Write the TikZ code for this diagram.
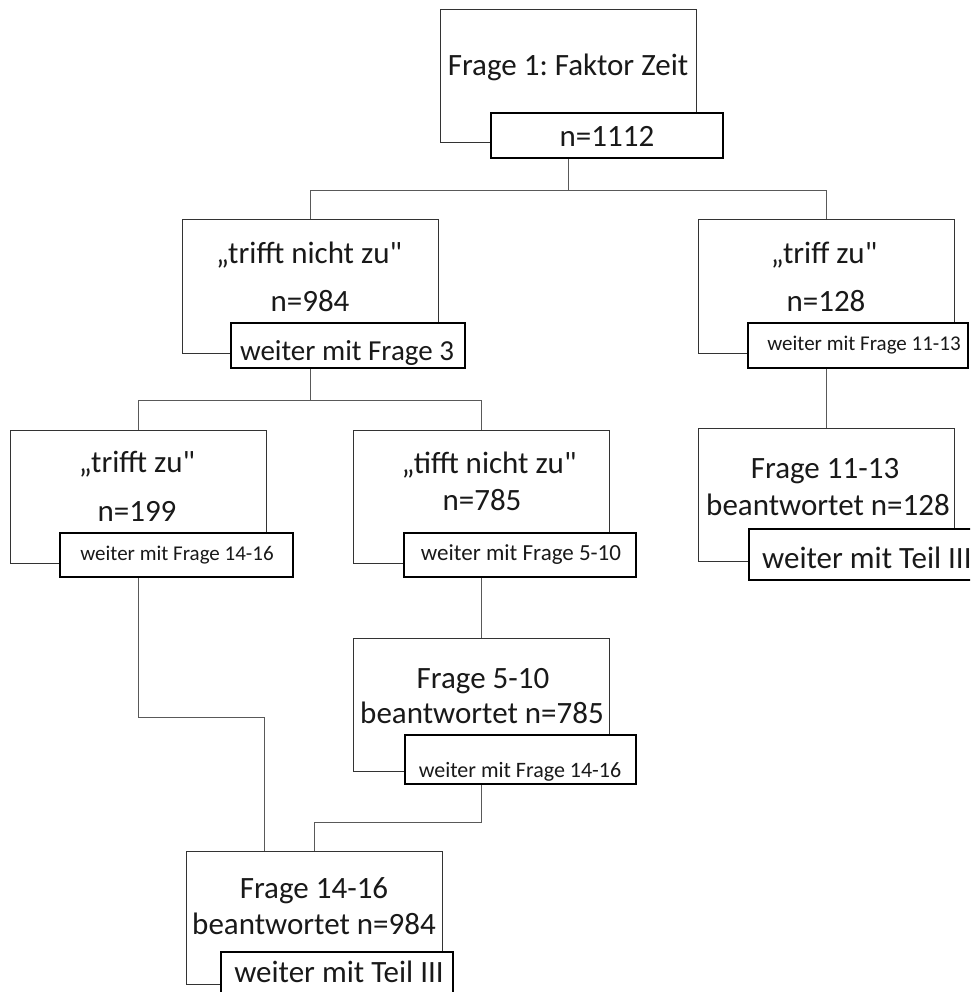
\documentclass[tikz,border=0pt]{standalone}
\usepackage{fontspec}
\setmainfont{Carlito}[Ligatures=TeXOff]
\begin{document}
\frenchspacing
\begin{tikzpicture}[x=1pt,y=-1pt,
  outer/.style={draw=black!80, line width=1pt, minimum width=256pt, minimum height=133pt, inner sep=0pt},
  innerbox/.style={draw=black, line width=2.6pt, fill=white, inner sep=0pt},
  conn/.style={draw=black!65, line width=1.3pt},
  bigtxt/.style={font=\fontsize{31}{37}\selectfont, anchor=base, inner sep=0pt, text=black!90},
  midtxt/.style={font=\fontsize{29}{35}\selectfont, anchor=base, inner sep=0pt, text=black!90},
  smalltxt/.style={font=\fontsize{21}{25}\selectfont, anchor=base, inner sep=0pt, text=black!90}]
\clip (0,0) rectangle (970,992);
\fill[white] (0,0) rectangle (970,992);
% outer boxes
\node[outer] (A) at (568.5,76.5) {};
\node[outer] (B) at (310.5,286.5) {};
\node[outer] (C) at (826.5,286.5) {};
\node[outer] (D1) at (138.5,496.5) {};
\node[outer] (D2) at (481.5,496.5) {};
\node[outer] (E) at (826.5,495) {};
\node[outer] (F) at (481.5,705) {};
\node[outer] (G) at (314.5,917.5) {};
% inner boxes
\node[innerbox, minimum width=232pt, minimum height=45pt] (Ai) at (607,135.5) {};
\node[innerbox, minimum width=234pt, minimum height=45pt] (Bi) at (348,345.5) {};
\node[innerbox, minimum width=220pt, minimum height=45pt] (Ci) at (858,345.5) {};
\node[innerbox, minimum width=233pt, minimum height=44pt] (D1i) at (176.5,555) {};
\node[innerbox, minimum width=232pt, minimum height=44pt] (D2i) at (520,555) {};
\node[innerbox, minimum width=232pt, minimum height=51pt] (Ei) at (865,554.5) {};
\node[innerbox, minimum width=231pt, minimum height=49pt] (Fi) at (520.5,759.5) {};
\node[innerbox, minimum width=232pt, minimum height=50pt] (Gi) at (337,977) {};
% connectors
\path (Ai.south -| A.center) ++(0,31) coordinate (j1);
\draw[conn] (Ai.south -| A.center) -- (j1);
\draw[conn] (j1) -| (B.north);
\draw[conn] (j1) -| (C.north);
\path (Bi.south -| B.center) ++(0,31) coordinate (j2);
\draw[conn] (Bi.south -| B.center) -- (j2);
\draw[conn] (j2) -| (D1.north);
\draw[conn] (j2) -| (D2.north);
\draw[conn] (Ci.south -| C.center) -- (E.north);
\coordinate (g1) at ([xshift=-50pt]G.north);
\draw[conn] (D1i.south -| D1.center) -- ++(0,139) -| (g1);
\draw[conn] (D2i.south -| D2.center) -- (F.north);
\draw[conn] (Fi.south -| F.center) -- ++(0,37) -| (G.north);
% texts
\node[bigtxt] (tA) at (568,76) {Frage 1: Faktor Zeit};
\node[bigtxt] (tAi) at (607,147) {n=1112};
\node[bigtxt] (tB1) at (309,263) {„trifft nicht zu"};
\node[bigtxt] (tB2) at (310,311) {n=984};
\node[midtxt] (tBi) at (347,360) {weiter mit Frage 3};
\node[bigtxt] (tC1) at (824,263) {„triff zu"};
\node[bigtxt] (tC2) at (826,311) {n=128};
\node[smalltxt] (tCi) at (864,350) {weiter mit Frage 11-13};
\node[bigtxt] (tE1) at (825,478) {Frage 11-13};
\node[bigtxt] (tE2) at (828,515) {beantwortet n=128};
\node[bigtxt, anchor=base west] (tEi) at (762,568) {weiter mit Teil III};
\node[bigtxt] (tD11) at (137,472) {„trifft zu"};
\node[bigtxt] (tD12) at (137,521) {n=199};
\node[smalltxt] (tD1i) at (177,560) {weiter mit Frage 14-16};
\node[bigtxt] (tD21) at (489,473) {„tifft nicht zu"};
\node[bigtxt] (tD22) at (482,510) {n=785};
\node[smalltxt, font=\fontsize{23}{27}\selectfont] (tD2i) at (521,560) {weiter mit Frage 5-10};
\node[bigtxt] (tF1) at (483,688) {Frage 5-10};
\node[bigtxt] (tF2) at (482,723) {beantwortet n=785};
\node[smalltxt, font=\fontsize{22}{26}\selectfont] (tFi) at (520,777) {weiter mit Frage 14-16};
\node[bigtxt] (tG1) at (314,898) {Frage 14-16};
\node[bigtxt] (tG2) at (314,934) {beantwortet n=984};
\node[bigtxt] (tGi) at (339,982) {weiter mit Teil III};
\end{tikzpicture}
\end{document}
